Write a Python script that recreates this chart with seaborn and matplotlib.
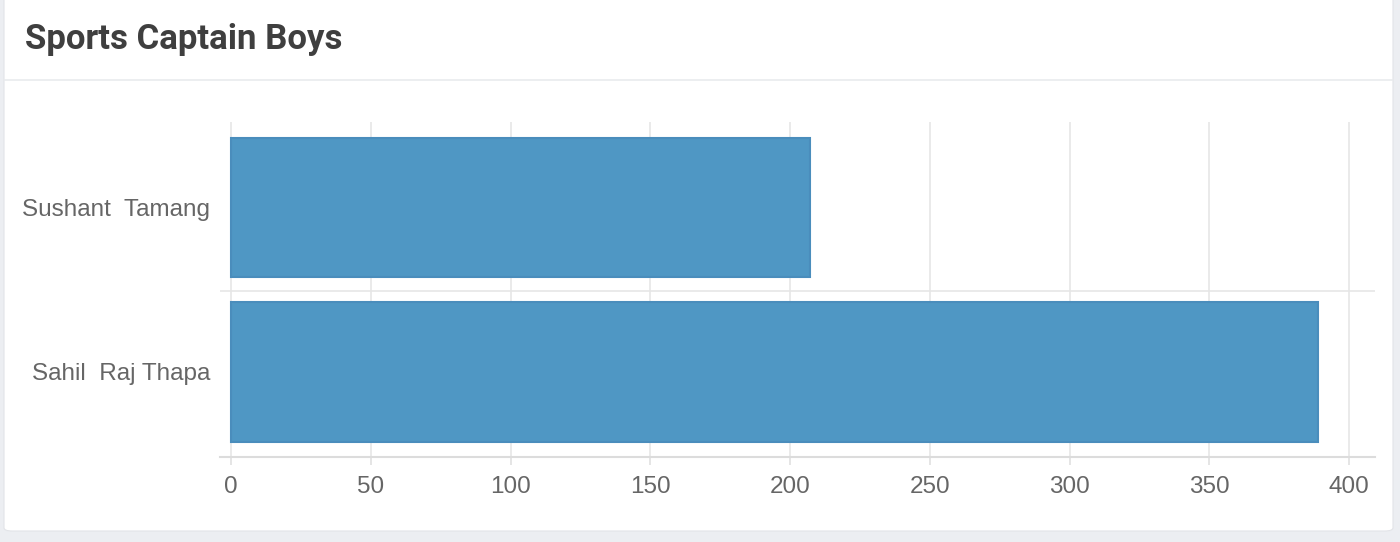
import matplotlib
matplotlib.use("Agg")
import matplotlib.pyplot as plt
from matplotlib.patches import FancyBboxPatch
from matplotlib.lines import Line2D
import seaborn as sns
import pandas as pd

title = "Sports Captain Boys"
candidates = ["Sushant  Tamang", "Sahil  Raj Thapa"]
votes = [207, 389]
x_ticks = [0, 50, 100, 150, 200, 250, 300, 350, 400]

W, H = 1400, 542
DPI = 100
sns.set_theme(style="white")
plt.rcParams["font.family"] = ["Liberation Sans", "DejaVu Sans"]

fig = plt.figure(figsize=(W / DPI, H / DPI), dpi=DPI)
fig.patch.set_facecolor("#eceef2")

# card
card = FancyBboxPatch((4 / W, 1 - 531 / H), 1389 / W, 536 / H,
                      boxstyle="round,pad=0,rounding_size=0.006",
                      transform=fig.transFigure, facecolor="white",
                      edgecolor="#e2e4e8", linewidth=0.8, zorder=-10)
fig.patches.append(card)
fig.add_artist(Line2D([4 / W, 1393 / W], [1 - 80 / H, 1 - 80 / H],
                      transform=fig.transFigure, color="#e9ebee", lw=1.2,
                      zorder=-5))
fig.text(25 / W, 1 - 40 / H, title, fontsize=25, fontweight="bold",
         color="#3f3f3f", va="center", ha="left",
         family=["Roboto", "DejaVu Sans"])

left, right, top, bottom = 220, 1375, 122, 457
ax = fig.add_axes([left / W, 1 - bottom / H, (right - left) / W, (bottom - top) / H])
ax.set_facecolor("white")
ax.set_zorder(1)

df = pd.DataFrame({"name": candidates, "votes": votes})
sns.barplot(data=df, x="votes", y="name", orient="h", width=0.85,
            color="#4f97c4", saturation=1, edgecolor="#4a8dbc",
            linewidth=1.5, ax=ax, zorder=3)

ax.set_xlim(-3.94, 409.3)
ax.set_ylim(1.517, -0.52)
ax.set_xticks(x_ticks)
ax.set_xticklabels([str(t) for t in x_ticks])
ax.set_xlabel("")
ax.set_ylabel("")

for t in x_ticks:
    ax.axvline(t, color="#e6e6e6", lw=1.2, zorder=1)
ax.axhline(0.51, color="#e6e6e6", lw=1.2, zorder=1)

for s in ["top", "right", "left"]:
    ax.spines[s].set_visible(False)
ax.spines["bottom"].set_color("#dcdcdc")
ax.spines["bottom"].set_linewidth(1.5)

ax.tick_params(axis="x", length=6, width=1.2, color="#e0e0e0", pad=8,
               labelsize=17.5, labelcolor="#666666", bottom=True)
ax.tick_params(axis="y", length=0, pad=7, labelsize=17.5, labelcolor="#666666")

fig.savefig("out.png", dpi=DPI, facecolor=fig.get_facecolor())
